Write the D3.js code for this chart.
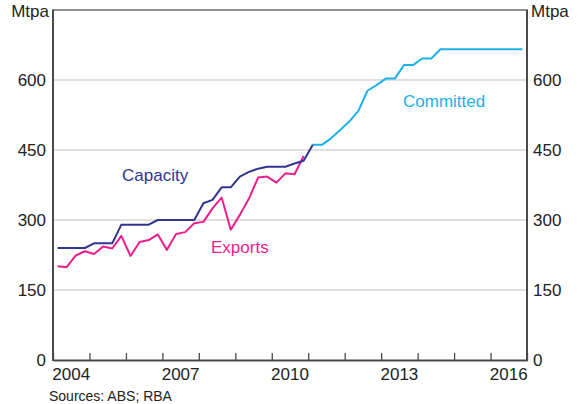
<!DOCTYPE html>
<html>
<head>
<meta charset="utf-8">
<script src="https://cdn.jsdelivr.net/npm/d3@7"></script>
<style>
  body { margin: 0; background: #fff; }
  svg text { font-family: "Liberation Sans", Arial, sans-serif; }
</style>
</head>
<body>
<script>
// quarterly series, first point is the quarter that starts at the given year
const capacityStart = 2004;
const capacity = [240, 240, 240, 240, 250, 250, 250, 290, 290, 290, 290, 300,
  300, 300, 300, 300, 336, 343, 370, 370, 393, 403, 410, 414, 414, 414, 421, 427, 461];
const exportsStart = 2004;
const exportsVals = [201, 199, 224, 233, 227, 243, 239, 266, 223, 253, 257, 269,
  236, 270, 274, 293, 296, 325, 348, 279, 311, 346, 391, 393, 380, 400, 398, 437];
const committedStart = 2011;
const committed = [461, 461, 475, 493, 511, 534, 577, 589, 603, 603, 632, 632,
  646, 646, 666, 666, 666, 666, 666, 666, 666, 666, 666, 666];

const yTicks = [0, 150, 300, 450, 600];
const yearLabels = [2004, 2007, 2010, 2013, 2016];
const unit = "Mtpa";
const source = "Sources: ABS; RBA";

const W = 580, H = 404;
const mLeft = 53, mRight = 527, mTop = 10, mBottom = 360;

const svg = d3.select("body").append("svg")
    .attr("width", W)
    .attr("height", H);

const x = d3.scaleLinear().domain([2004, 2017]).range([mLeft, mRight]);
const y = d3.scaleLinear().domain([0, 750]).range([mBottom, mTop]);

// quarter i of a series -> mid point of that quarter
const toPoints = (start, vals) => vals.map((v, i) => [start + i * 0.25 + 0.125, v]);

// gridlines
svg.append("g").selectAll("line")
    .data(yTicks.filter(d => d > 0))
    .enter().append("line")
    .attr("x1", mLeft).attr("x2", mRight)
    .attr("y1", d => y(d)).attr("y2", d => y(d))
    .attr("stroke", "#d6d6d6")
    .attr("stroke-width", 1.5);

const line = d3.line()
    .x(d => x(d[0]))
    .y(d => y(d[1]));

const series = [
  { pts: toPoints(committedStart, committed), color: "#1eb1ea" },
  { pts: toPoints(exportsStart, exportsVals), color: "#ea1e8c" },
  { pts: toPoints(capacityStart, capacity), color: "#303592" }
];

svg.append("g").selectAll("path")
    .data(series)
    .enter().append("path")
    .attr("d", d => line(d.pts))
    .attr("fill", "none")
    .attr("stroke", d => d.color)
    .attr("stroke-width", 2)
    .attr("stroke-linejoin", "round");

// frame
svg.append("line").attr("x1", mLeft).attr("x2", mRight).attr("y1", mTop).attr("y2", mTop)
    .attr("stroke", "#222").attr("stroke-width", 1);
svg.append("line").attr("x1", mLeft).attr("x2", mLeft).attr("y1", mTop - 0.5).attr("y2", mBottom + 1)
    .attr("stroke", "#4a4a4a").attr("stroke-width", 2);
svg.append("line").attr("x1", mRight).attr("x2", mRight).attr("y1", mTop - 0.5).attr("y2", mBottom + 1)
    .attr("stroke", "#4a4a4a").attr("stroke-width", 2);

// x axis with inward ticks at each year
const xAxis = d3.axisBottom(x)
    .tickValues(d3.range(2004, 2018))
    .tickSizeInner(-7)
    .tickSizeOuter(0)
    .tickFormat("");
const gx = svg.append("g")
    .attr("transform", `translate(0,${mBottom})`)
    .call(xAxis);
gx.select(".domain").attr("stroke", "#4a4a4a").attr("stroke-width", 2);
gx.selectAll(".tick line").attr("stroke", "#4a4a4a").attr("stroke-width", 1.3);

svg.append("g").selectAll("text")
    .data(yearLabels)
    .enter().append("text")
    .attr("x", d => x(d + 0.5))
    .attr("y", 380)
    .attr("text-anchor", "middle")
    .attr("font-size", 17)
    .attr("fill", "#222")
    .text(d => d);

// y labels both sides
const yAxisL = d3.axisLeft(y).tickValues(yTicks).tickSize(0).tickPadding(7);
const gyl = svg.append("g").attr("transform", `translate(${mLeft},0)`).call(yAxisL);
const yAxisR = d3.axisRight(y).tickValues(yTicks).tickSize(0).tickPadding(6);
const gyr = svg.append("g").attr("transform", `translate(${mRight},0)`).call(yAxisR);
[gyl, gyr].forEach(g => {
  g.select(".domain").remove();
  g.selectAll("text").attr("font-size", 17).attr("fill", "#222")
    .style("font-family", "'Liberation Sans', Arial, sans-serif");
});

svg.append("text").attr("x", 49).attr("y", 17).attr("text-anchor", "end")
    .attr("font-size", 17).attr("fill", "#222").text(unit);
svg.append("text").attr("x", 531).attr("y", 17)
    .attr("font-size", 17).attr("fill", "#222").text(unit);

// series labels
const labels = [
  { text: "Capacity", x: 122, y: 181, color: "#303592" },
  { text: "Exports", x: 211, y: 253, color: "#ea1e8c" },
  { text: "Committed", x: 403, y: 107, color: "#1eb1ea" }
];
svg.append("g").selectAll("text")
    .data(labels)
    .enter().append("text")
    .attr("x", d => d.x).attr("y", d => d.y)
    .attr("font-size", 17)
    .attr("fill", d => d.color)
    .text(d => d.text);

svg.append("text").attr("x", 49).attr("y", 401)
    .attr("font-size", 14).attr("fill", "#222").text(source);
</script>
</body>
</html>
